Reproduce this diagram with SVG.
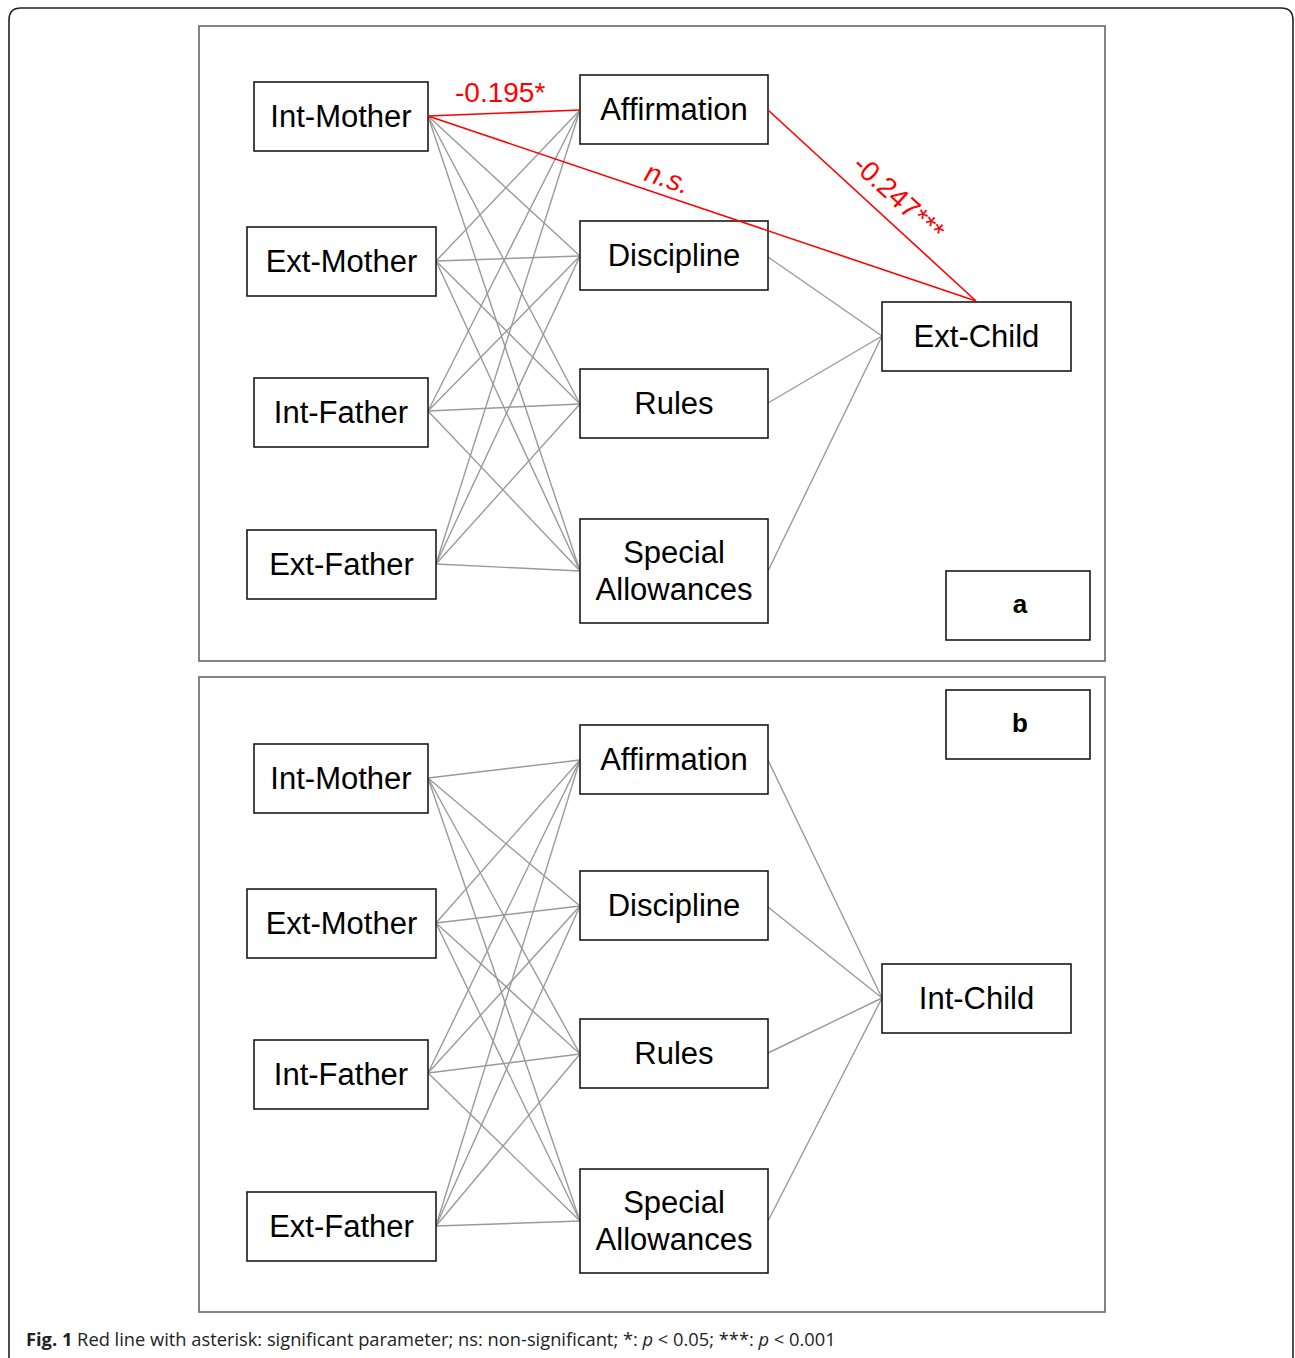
<svg xmlns="http://www.w3.org/2000/svg" width="1295" height="1358" viewBox="0 0 1295 1358">
<style>
.frame{fill:none;stroke:#666;stroke-width:1.6}
.node rect{fill:#fff;stroke:#1a1a1a;stroke-width:1.6}
.node text{font-family:"Liberation Sans",Arial,sans-serif;font-size:31px;fill:#000;text-anchor:middle}
.e{stroke:#9a9a9a;stroke-width:1.4;fill:none}
.r{stroke:#ff0000;stroke-width:1.6;fill:none}
.lbl{font-family:"Liberation Sans",Arial,sans-serif;font-size:28px;fill:#ff0000}
.tag text{font-family:"Liberation Sans",Arial,sans-serif;font-size:26px;font-weight:bold;text-anchor:middle}
</style>
<rect width="1295" height="1358" fill="#fff"/>
<path d="M9 1368 V20 Q9 8 21 8 H1281 Q1293 8 1293 20 V1368" fill="none" stroke="#222" stroke-width="1.6"/>
<rect class="frame" x="199" y="26" width="906" height="635"/>
<rect class="frame" x="199" y="677" width="906" height="635"/>

<g id="connectors-a">
<line class="e" x1="428" y1="116" x2="580" y2="256"/>
<line class="e" x1="428" y1="116" x2="580" y2="404"/>
<line class="e" x1="428" y1="116" x2="580" y2="571"/>
<line class="e" x1="436" y1="261" x2="580" y2="110"/>
<line class="e" x1="436" y1="261" x2="580" y2="256"/>
<line class="e" x1="436" y1="261" x2="580" y2="404"/>
<line class="e" x1="436" y1="261" x2="580" y2="571"/>
<line class="e" x1="428" y1="411" x2="580" y2="110"/>
<line class="e" x1="428" y1="411" x2="580" y2="256"/>
<line class="e" x1="428" y1="411" x2="580" y2="404"/>
<line class="e" x1="428" y1="411" x2="580" y2="571"/>
<line class="e" x1="436" y1="564" x2="580" y2="110"/>
<line class="e" x1="436" y1="564" x2="580" y2="256"/>
<line class="e" x1="436" y1="564" x2="580" y2="404"/>
<line class="e" x1="436" y1="564" x2="580" y2="571"/>
<line class="e" x1="768" y1="257" x2="882" y2="336"/>
<line class="e" x1="768" y1="403" x2="882" y2="336"/>
<line class="e" x1="768" y1="571" x2="882" y2="336"/>
</g>

<g id="connectors-b">
<line class="e" x1="428" y1="778" x2="580" y2="760"/>
<line class="e" x1="428" y1="778" x2="580" y2="906"/>
<line class="e" x1="428" y1="778" x2="580" y2="1054"/>
<line class="e" x1="428" y1="778" x2="580" y2="1221"/>
<line class="e" x1="436" y1="923" x2="580" y2="760"/>
<line class="e" x1="436" y1="923" x2="580" y2="906"/>
<line class="e" x1="436" y1="923" x2="580" y2="1054"/>
<line class="e" x1="436" y1="923" x2="580" y2="1221"/>
<line class="e" x1="428" y1="1073" x2="580" y2="760"/>
<line class="e" x1="428" y1="1073" x2="580" y2="906"/>
<line class="e" x1="428" y1="1073" x2="580" y2="1054"/>
<line class="e" x1="428" y1="1073" x2="580" y2="1221"/>
<line class="e" x1="436" y1="1226" x2="580" y2="760"/>
<line class="e" x1="436" y1="1226" x2="580" y2="906"/>
<line class="e" x1="436" y1="1226" x2="580" y2="1054"/>
<line class="e" x1="436" y1="1226" x2="580" y2="1221"/>
<line class="e" x1="768" y1="760" x2="882" y2="998"/>
<line class="e" x1="768" y1="907" x2="882" y2="998"/>
<line class="e" x1="768" y1="1053" x2="882" y2="998"/>
<line class="e" x1="768" y1="1221" x2="882" y2="998"/>
</g>

<g id="a-int-mother" class="node"><rect x="254" y="82" width="174" height="69"/><text x="341" y="127">Int-Mother</text></g>
<g id="a-ext-mother" class="node"><rect x="247" y="227" width="189" height="69"/><text x="341.5" y="272">Ext-Mother</text></g>
<g id="a-int-father" class="node"><rect x="254" y="378" width="174" height="69"/><text x="341" y="423">Int-Father</text></g>
<g id="a-ext-father" class="node"><rect x="247" y="530" width="189" height="69"/><text x="341.5" y="575">Ext-Father</text></g>
<g id="a-affirmation" class="node"><rect x="580" y="75" width="188" height="69"/><text x="674" y="120">Affirmation</text></g>
<g id="a-discipline" class="node"><rect x="580" y="221" width="188" height="69"/><text x="674" y="266">Discipline</text></g>
<g id="a-rules" class="node"><rect x="580" y="369" width="188" height="69"/><text x="674" y="414">Rules</text></g>
<g id="a-special" class="node"><rect x="580" y="519" width="188" height="104"/><text x="674" y="563">Special</text><text x="674" y="600">Allowances</text></g>
<g id="a-ext-child" class="node"><rect x="882" y="302" width="189" height="69"/><text x="976.5" y="347">Ext-Child</text></g>
<g id="tag-a" class="node tag"><rect x="946" y="571" width="144" height="69"/><text x="1020" y="613" style="font-size:26px;font-weight:bold">a</text></g>

<g id="connectors-a-significant">
<line class="r" x1="428" y1="116" x2="580" y2="110"/>
<line class="r" x1="428" y1="116" x2="976" y2="301"/>
<line class="r" x1="768" y1="110" x2="976" y2="301"/>
<text class="lbl" x="455" y="102">-0.195*</text>
<text class="lbl" x="0" y="0" font-style="italic" transform="translate(643,180) rotate(18.6)">n.s.</text>
<text class="lbl" x="0" y="0" transform="translate(851,167) rotate(42.5)">-0.247***</text>
</g>

<g id="b-int-mother" class="node"><rect x="254" y="744" width="174" height="69"/><text x="341" y="789">Int-Mother</text></g>
<g id="b-ext-mother" class="node"><rect x="247" y="889" width="189" height="69"/><text x="341.5" y="934">Ext-Mother</text></g>
<g id="b-int-father" class="node"><rect x="254" y="1040" width="174" height="69"/><text x="341" y="1085">Int-Father</text></g>
<g id="b-ext-father" class="node"><rect x="247" y="1192" width="189" height="69"/><text x="341.5" y="1237">Ext-Father</text></g>
<g id="b-affirmation" class="node"><rect x="580" y="725" width="188" height="69"/><text x="674" y="770">Affirmation</text></g>
<g id="b-discipline" class="node"><rect x="580" y="871" width="188" height="69"/><text x="674" y="916">Discipline</text></g>
<g id="b-rules" class="node"><rect x="580" y="1019" width="188" height="69"/><text x="674" y="1064">Rules</text></g>
<g id="b-special" class="node"><rect x="580" y="1169" width="188" height="104"/><text x="674" y="1213">Special</text><text x="674" y="1250">Allowances</text></g>
<g id="b-int-child" class="node"><rect x="882" y="964" width="189" height="69"/><text x="976.5" y="1009">Int-Child</text></g>
<g id="tag-b" class="node tag"><rect x="946" y="690" width="144" height="69"/><text x="1020" y="732" style="font-size:26px;font-weight:bold">b</text></g>

<text x="26" y="1346" font-family="'Open Sans','Liberation Sans',sans-serif" font-size="18.3" fill="#222"><tspan font-weight="bold">Fig. 1</tspan> Red line with asterisk: significant parameter; ns: non-significant; *: <tspan font-style="italic">p</tspan> &lt; 0.05; ***: <tspan font-style="italic">p</tspan> &lt; 0.001</text>
</svg>
